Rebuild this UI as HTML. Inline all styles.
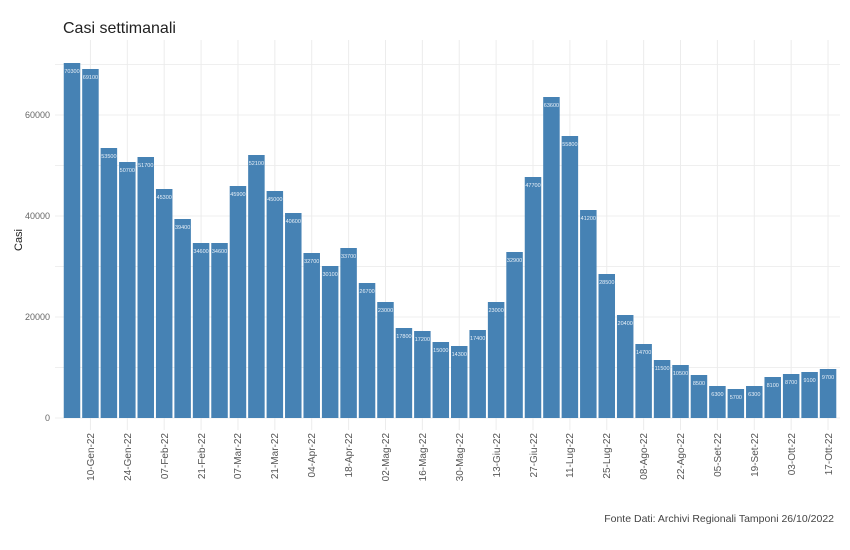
<!DOCTYPE html>
<html><head><meta charset="utf-8"><style>
html,body{margin:0;padding:0;background:#fff;}
svg{display:block;font-family:"Liberation Sans",sans-serif;}
</style></head><body>
<svg width="850" height="550" viewBox="0 0 850 550" xmlns="http://www.w3.org/2000/svg">
<rect width="850" height="550" fill="#fff"/>
<text x="63" y="33" font-size="16" fill="#222">Casi settimanali</text>
<g stroke="#efefef" stroke-width="1">
<line x1="55" x2="840" y1="418" y2="418"/><line x1="55" x2="840" y1="367.5" y2="367.5"/>
<line x1="55" x2="840" y1="317" y2="317"/><line x1="55" x2="840" y1="266.5" y2="266.5"/>
<line x1="55" x2="840" y1="216" y2="216"/><line x1="55" x2="840" y1="165.5" y2="165.5"/>
<line x1="55" x2="840" y1="115" y2="115"/><line x1="55" x2="840" y1="64.5" y2="64.5"/>
</g>
<g stroke="#ececec" stroke-width="1">
<line x1="90.44" x2="90.44" y1="40" y2="430"/><line x1="127.32" x2="127.32" y1="40" y2="430"/>
<line x1="164.2" x2="164.2" y1="40" y2="430"/><line x1="201.08" x2="201.08" y1="40" y2="430"/>
<line x1="237.96" x2="237.96" y1="40" y2="430"/><line x1="274.84" x2="274.84" y1="40" y2="430"/>
<line x1="311.72" x2="311.72" y1="40" y2="430"/><line x1="348.6" x2="348.6" y1="40" y2="430"/>
<line x1="385.48" x2="385.48" y1="40" y2="430"/><line x1="422.36" x2="422.36" y1="40" y2="430"/>
<line x1="459.24" x2="459.24" y1="40" y2="430"/><line x1="496.12" x2="496.12" y1="40" y2="430"/>
<line x1="533" x2="533" y1="40" y2="430"/><line x1="569.88" x2="569.88" y1="40" y2="430"/>
<line x1="606.76" x2="606.76" y1="40" y2="430"/><line x1="643.64" x2="643.64" y1="40" y2="430"/>
<line x1="680.52" x2="680.52" y1="40" y2="430"/><line x1="717.4" x2="717.4" y1="40" y2="430"/>
<line x1="754.28" x2="754.28" y1="40" y2="430"/><line x1="791.16" x2="791.16" y1="40" y2="430"/>
<line x1="828.04" x2="828.04" y1="40" y2="430"/>
</g>
<g font-size="9" fill="#666" text-anchor="end">
<text x="50" y="421">0</text><text x="50" y="320">20000</text>
<text x="50" y="219">40000</text><text x="50" y="118">60000</text>
</g>
<text transform="translate(22,240) rotate(-90)" font-size="11" fill="#222" text-anchor="middle">Casi</text>
<g fill="#4682b4">
<rect x="63.75" y="63" width="16.5" height="355"/>
<rect x="82.19" y="69" width="16.5" height="349"/>
<rect x="100.63" y="148" width="16.5" height="270"/>
<rect x="119.07" y="162" width="16.5" height="256"/>
<rect x="137.51" y="157" width="16.5" height="261"/>
<rect x="155.95" y="189" width="16.5" height="229"/>
<rect x="174.39" y="219" width="16.5" height="199"/>
<rect x="192.83" y="243" width="16.5" height="175"/>
<rect x="211.27" y="243" width="16.5" height="175"/>
<rect x="229.71" y="186" width="16.5" height="232"/>
<rect x="248.15" y="155" width="16.5" height="263"/>
<rect x="266.59" y="191" width="16.5" height="227"/>
<rect x="285.03" y="213" width="16.5" height="205"/>
<rect x="303.47" y="253" width="16.5" height="165"/>
<rect x="321.91" y="266" width="16.5" height="152"/>
<rect x="340.35" y="248" width="16.5" height="170"/>
<rect x="358.79" y="283" width="16.5" height="135"/>
<rect x="377.23" y="302" width="16.5" height="116"/>
<rect x="395.67" y="328" width="16.5" height="90"/>
<rect x="414.11" y="331" width="16.5" height="87"/>
<rect x="432.55" y="342" width="16.5" height="76"/>
<rect x="450.99" y="346" width="16.5" height="72"/>
<rect x="469.43" y="330" width="16.5" height="88"/>
<rect x="487.87" y="302" width="16.5" height="116"/>
<rect x="506.31" y="252" width="16.5" height="166"/>
<rect x="524.75" y="177" width="16.5" height="241"/>
<rect x="543.19" y="97" width="16.5" height="321"/>
<rect x="561.63" y="136" width="16.5" height="282"/>
<rect x="580.07" y="210" width="16.5" height="208"/>
<rect x="598.51" y="274" width="16.5" height="144"/>
<rect x="616.95" y="315" width="16.5" height="103"/>
<rect x="635.39" y="344" width="16.5" height="74"/>
<rect x="653.83" y="360" width="16.5" height="58"/>
<rect x="672.27" y="365" width="16.5" height="53"/>
<rect x="690.71" y="375" width="16.5" height="43"/>
<rect x="709.15" y="386" width="16.5" height="32"/>
<rect x="727.59" y="389" width="16.5" height="29"/>
<rect x="746.03" y="386" width="16.5" height="32"/>
<rect x="764.47" y="377" width="16.5" height="41"/>
<rect x="782.91" y="374" width="16.5" height="44"/>
<rect x="801.35" y="372" width="16.5" height="46"/>
<rect x="819.79" y="369" width="16.5" height="49"/>
</g>
<g font-size="5.5" fill="#e8f0f8" text-anchor="middle">
<text x="72" y="73">70300</text><text x="90.44" y="79">69100</text>
<text x="108.88" y="158">53500</text><text x="127.32" y="172">50700</text>
<text x="145.76" y="167">51700</text><text x="164.2" y="199">45300</text>
<text x="182.64" y="229">39400</text><text x="201.08" y="253">34600</text>
<text x="219.52" y="253">34600</text><text x="237.96" y="196">45900</text>
<text x="256.4" y="165">52100</text><text x="274.84" y="201">45000</text>
<text x="293.28" y="223">40600</text><text x="311.72" y="263">32700</text>
<text x="330.16" y="276">30100</text><text x="348.6" y="258">33700</text>
<text x="367.04" y="293">26700</text><text x="385.48" y="312">23000</text>
<text x="403.92" y="338">17800</text><text x="422.36" y="341">17200</text>
<text x="440.8" y="352">15000</text><text x="459.24" y="356">14300</text>
<text x="477.68" y="340">17400</text><text x="496.12" y="312">23000</text>
<text x="514.56" y="262">32900</text><text x="533" y="187">47700</text>
<text x="551.44" y="107">63600</text><text x="569.88" y="146">55800</text>
<text x="588.32" y="220">41200</text><text x="606.76" y="284">28500</text>
<text x="625.2" y="325">20400</text><text x="643.64" y="354">14700</text>
<text x="662.08" y="370">11500</text><text x="680.52" y="375">10500</text>
<text x="698.96" y="385">8500</text><text x="717.4" y="396">6300</text>
<text x="735.84" y="399">5700</text><text x="754.28" y="396">6300</text>
<text x="772.72" y="387">8100</text><text x="791.16" y="384">8700</text>
<text x="809.6" y="382">9100</text><text x="828.04" y="379">9700</text>
</g>
<g font-size="10" fill="#555" text-anchor="end">
<text transform="translate(94,433) rotate(-90)">10-Gen-22</text>
<text transform="translate(131,433) rotate(-90)">24-Gen-22</text>
<text transform="translate(168,433) rotate(-90)">07-Feb-22</text>
<text transform="translate(205,433) rotate(-90)">21-Feb-22</text>
<text transform="translate(241,433) rotate(-90)">07-Mar-22</text>
<text transform="translate(278,433) rotate(-90)">21-Mar-22</text>
<text transform="translate(315,433) rotate(-90)">04-Apr-22</text>
<text transform="translate(352,433) rotate(-90)">18-Apr-22</text>
<text transform="translate(389,433) rotate(-90)">02-Mag-22</text>
<text transform="translate(426,433) rotate(-90)">16-Mag-22</text>
<text transform="translate(463,433) rotate(-90)">30-Mag-22</text>
<text transform="translate(500,433) rotate(-90)">13-Giu-22</text>
<text transform="translate(537,433) rotate(-90)">27-Giu-22</text>
<text transform="translate(573,433) rotate(-90)">11-Lug-22</text>
<text transform="translate(610,433) rotate(-90)">25-Lug-22</text>
<text transform="translate(647,433) rotate(-90)">08-Ago-22</text>
<text transform="translate(684,433) rotate(-90)">22-Ago-22</text>
<text transform="translate(721,433) rotate(-90)">05-Set-22</text>
<text transform="translate(758,433) rotate(-90)">19-Set-22</text>
<text transform="translate(795,433) rotate(-90)">03-Ott-22</text>
<text transform="translate(832,433) rotate(-90)">17-Ott-22</text>
</g>
<text x="834" y="522" font-size="10.5" fill="#444" text-anchor="end">Fonte Dati: Archivi Regionali Tamponi 26/10/2022</text>
</svg>
</body></html>
